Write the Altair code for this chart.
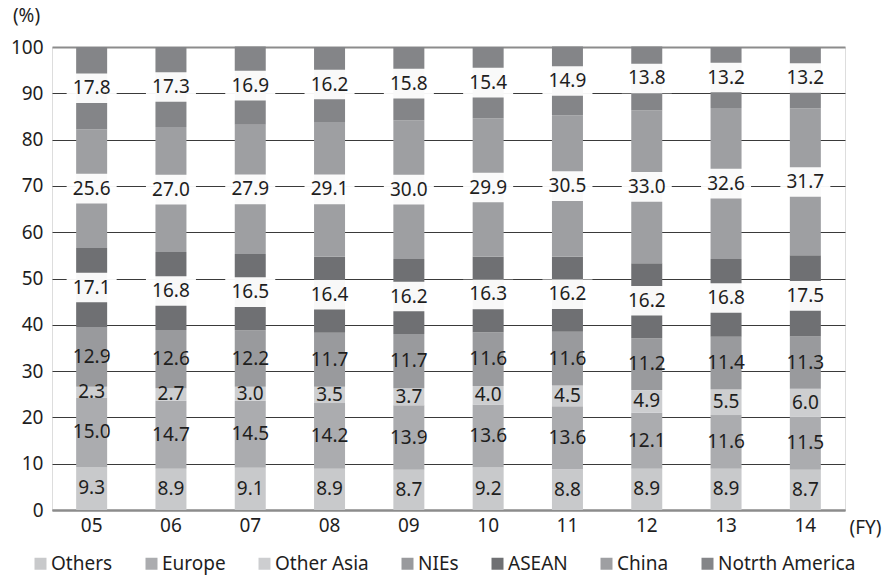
import altair as alt
import pandas as pd

# Fiscal years
years = ["05", "06", "07", "08", "09", "10", "11", "12", "13", "14"]

# Regional shares (%) stacked bottom to top
series = ["Others", "Europe", "Other Asia", "NIEs", "ASEAN", "China", "Notrth America"]
others = [9.3, 8.9, 9.1, 8.9, 8.7, 9.2, 8.8, 8.9, 8.9, 8.7]
europe = [15.0, 14.7, 14.5, 14.2, 13.9, 13.6, 13.6, 12.1, 11.6, 11.5]
other_asia = [2.3, 2.7, 3.0, 3.5, 3.7, 4.0, 4.5, 4.9, 5.5, 6.0]
nies = [12.9, 12.6, 12.2, 11.7, 11.7, 11.6, 11.6, 11.2, 11.4, 11.3]
asean = [17.1, 16.8, 16.5, 16.4, 16.2, 16.3, 16.2, 16.2, 16.8, 17.5]
china = [25.6, 27.0, 27.9, 29.1, 30.0, 29.9, 30.5, 33.0, 32.6, 31.7]
north_america = [17.8, 17.3, 16.9, 16.2, 15.8, 15.4, 14.9, 13.8, 13.2, 13.2]

colors = ["#c8c9cb", "#abacaf", "#cdced0", "#999a9d", "#6f7073", "#9e9fa2", "#848588"]
boxed = ["ASEAN", "China", "Notrth America"]

values = [others, europe, other_asia, nies, asean, china, north_america]
rows = []
for i, yr in enumerate(years):
    base = 0.0
    for name, vals in zip(series, values):
        v = vals[i]
        rows.append({
            "year": yr, "region": name, "share": v,
            "y0": base, "y1": base + v, "mid": base + v / 2,
            "label": f"{v:.1f}", "boxed": name in boxed,
        })
        base += v
df = pd.DataFrame(rows)
df["box0"] = df["mid"] - 3.2
df["box1"] = df["mid"] + 3.2

FONT = "Noto Sans"
TXT = "#1e1e1e"

x_enc = alt.X(
    "year:N", sort=years,
    scale=alt.Scale(paddingInner=0.6, paddingOuter=0.3),
    axis=alt.Axis(
        title="(FY)", titleAngle=0, titleX=813, titleY=17, titleAlign="center",
        titleBaseline="middle", titleFont=FONT, titleFontSize=19,
        titleFontWeight="normal", titleColor=TXT,
        labelFont=FONT, labelFontSize=19, labelColor=TXT, labelAngle=0,
        labelPadding=6, ticks=False, domain=True, domainColor="#8c8c8c",
        domainWidth=2, grid=False,
    ),
)

y_scale = alt.Scale(domain=[0, 100], nice=False)

bars = alt.Chart(df).mark_bar(size=31).encode(
    x=x_enc,
    y=alt.Y(
        "y0:Q", scale=y_scale,
        axis=alt.Axis(
            values=list(range(0, 101, 10)), title="(%)", titleAngle=0,
            titleX=-26, titleY=-32, titleAlign="center", titleBaseline="middle",
            titleFont=FONT, titleFontSize=19, titleFontWeight="normal",
            titleColor=TXT,
            labelFont=FONT, labelFontSize=19, labelColor=TXT, labelPadding=9,
            ticks=False, domain=False,
            gridColor=alt.condition("datum.value === 100 || datum.value === 0",
                                    alt.value("#8c8c8c"), alt.value("#3a3a3a")),
            gridWidth=alt.condition("datum.value === 100 || datum.value === 0",
                                    alt.value(2), alt.value(1)),
        ),
    ),
    y2="y1:Q",
    color=alt.Color(
        "region:N",
        scale=alt.Scale(domain=series, range=colors),
        legend=alt.Legend(
            title=None, orient="none", direction="horizontal", columns=7,
            legendX=-21, legendY=507, symbolType="square", symbolSize=144,
            symbolStrokeWidth=0, symbolOpacity=1, labelFont=FONT,
            labelFontSize=19, labelColor=TXT, labelOffset=1,
            columnPadding=29, labelLimit=300,
        ),
    ),
)

boxes = alt.Chart(df).transform_filter("datum.boxed").mark_bar(
    size=50, color="white", opacity=0.95
).encode(
    x=alt.X("year:N", sort=years),
    y=alt.Y("box0:Q", scale=y_scale),
    y2="box1:Q",
)

labels = alt.Chart(df).mark_text(
    font=FONT, fontSize=19, color=TXT, baseline="middle", align="center"
).encode(
    x=alt.X("year:N", sort=years),
    y=alt.Y("mid:Q", scale=y_scale),
    text="label:N",
)

chart = alt.layer(bars, boxes, labels).properties(
    width=793, height=463,
    autosize=alt.AutoSizeParams(type="none"),
    padding={"left": 52, "top": 47, "right": 37, "bottom": 66},
).configure_view(stroke=None).configure(background="white")

chart.save("out.html", embed_options={"renderer": "svg", "actions": False})
